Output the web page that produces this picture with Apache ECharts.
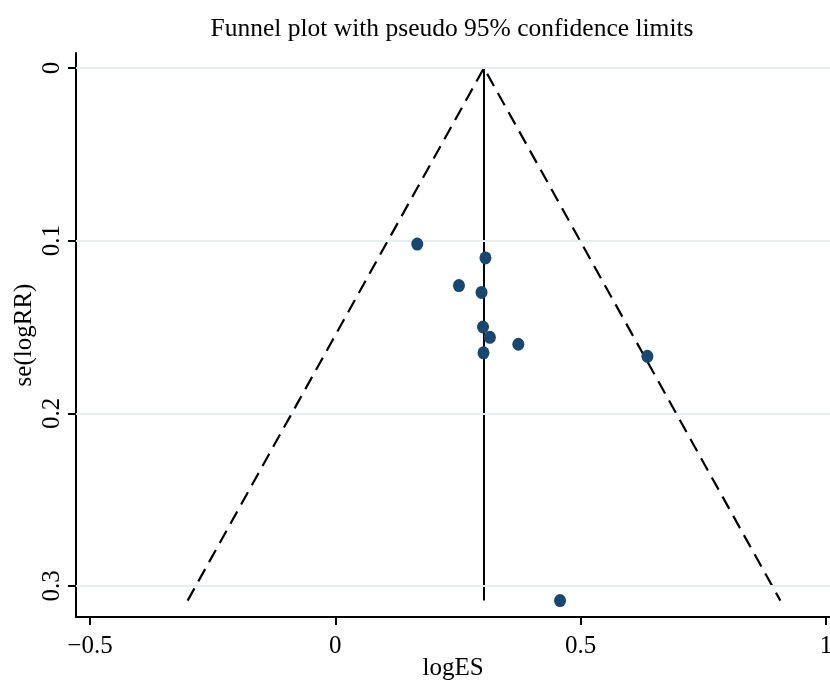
<!DOCTYPE html>
<html>
<head>
<meta charset="utf-8">
<script src="https://cdn.jsdelivr.net/npm/echarts@6/dist/echarts.min.js"></script>
<style>
  html, body { margin: 0; padding: 0; background: #fff; }
  #chart { width: 830px; height: 680px; }
</style>
</head>
<body>
<div id="chart"></div>
<script>
// study estimates
const logES = [0.167, 0.306, 0.252, 0.298, 0.301, 0.315, 0.373, 0.302, 0.636, 0.458];
const seLogRR = [0.102, 0.110, 0.126, 0.130, 0.150, 0.156, 0.160, 0.165, 0.167, 0.3085];

// pseudo 95% limits (left end, apex, right end) and pooled line
const funnelX = [-0.301, 0.303, 0.907];
const funnelY = [0.3085, 0, 0.3085];
const pooledX = [0.303, 0.303];
const pooledY = [0, 0.3085];

const xTicks = [-0.5, 0, 0.5, 1];
const yTicks = [0, 0.1, 0.2, 0.3];

const serif = "'Liberation Serif', 'DejaVu Serif', serif";
const pair = (xs, ys) => xs.map((x, i) => [x, ys[i]]);

const chart = echarts.init(document.getElementById('chart'));

chart.setOption({
  backgroundColor: '#fff',
  animation: false,
  title: {
    text: 'Funnel plot with pseudo 95% confidence limits',
    left: 447,
    top: 11,
    textAlign: 'center',
    textStyle: { fontFamily: serif, fontSize: 25.5, fontWeight: 'normal', color: '#000' }
  },
  grid: { left: 76, right: 0, top: 53, bottom: 63, outerBoundsMode: 'none' },
  xAxis: {
    type: 'value',
    min: -0.5285,
    max: 1.0082,
    name: 'logES',
    nameLocation: 'middle',
    nameGap: 39,
    nameMoveOverlap: false,
    nameTextStyle: { fontFamily: serif, fontSize: 25, color: '#000' },
    axisLine: { onZero: false, lineStyle: { color: '#000', width: 2 } },
    axisTick: { show: true, length: 8, customValues: xTicks, lineStyle: { color: '#000', width: 2 } },
    axisLabel: {
      customValues: xTicks,
      margin: 17,
      fontFamily: serif,
      fontSize: 25,
      color: '#000',
      formatter: v => String(v).replace('-', '\u2212')
    },
    splitLine: { show: false }
  },
  yAxis: {
    type: 'value',
    inverse: true,
    min: -0.0087,
    max: 0.318,
    name: 'se(logRR)',
    nameLocation: 'middle',
    nameRotate: 90,
    nameGap: 39,
    nameMoveOverlap: false,
    nameTextStyle: { fontFamily: serif, fontSize: 25, color: '#000' },
    axisLine: { onZero: false, lineStyle: { color: '#000', width: 2 } },
    axisTick: { show: true, length: 8, customValues: yTicks, lineStyle: { color: '#000', width: 2 } },
    axisLabel: {
      customValues: yTicks,
      rotate: 90,
      margin: 11,
      fontFamily: serif,
      fontSize: 25,
      color: '#000'
    },
    splitLine: { show: false }
  },
  series: [
    {
      // horizontal grid lines
      type: 'scatter',
      data: [],
      z: 1,
      markLine: {
        silent: true,
        symbol: 'none',
        label: { show: false },
        lineStyle: { color: '#e6eef0', width: 2, type: 'solid' },
        data: yTicks.map(v => ({ yAxis: v }))
      }
    },
    {
      type: 'line',
      data: pair(funnelX, funnelY),
      symbol: 'none',
      z: 2,
      lineStyle: { color: '#000', width: 2.2, type: [14, 8] }
    },
    {
      type: 'line',
      data: pair(pooledX, pooledY),
      symbol: 'none',
      z: 3,
      lineStyle: { color: '#000', width: 2 }
    },
    {
      type: 'scatter',
      data: pair(logES, seLogRR),
      symbol: 'circle',
      symbolSize: [12, 13],
      z: 5,
      itemStyle: { color: '#1a476f', opacity: 1 }
    }
  ]
});
</script>
</body>
</html>
